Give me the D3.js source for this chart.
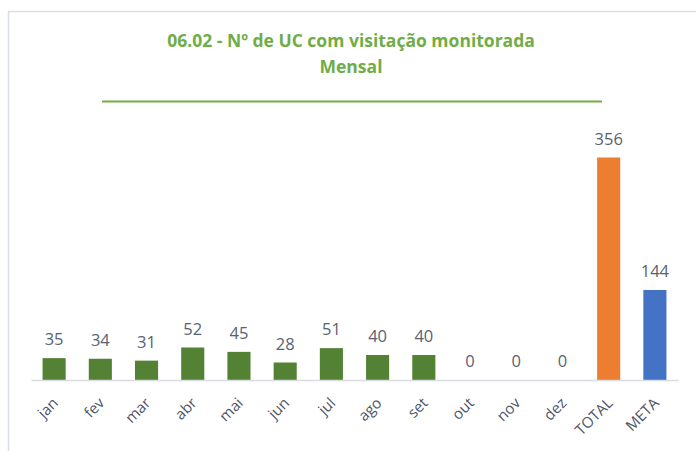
<!DOCTYPE html>
<html>
<head>
<meta charset="utf-8">
<script src="https://cdn.jsdelivr.net/npm/d3@7"></script>
<style>
  body { margin: 0; background: #fff; }
  svg { font-family: "Open Sans", "Liberation Sans", sans-serif; }
</style>
</head>
<body>
<div id="chart"></div>
<script>
const categories = ['jan', 'fev', 'mar', 'abr', 'mai', 'jun', 'jul', 'ago', 'set', 'out', 'nov', 'dez', 'TOTAL', 'META']
const values = [35, 34, 31, 52, 45, 28, 51, 40, 40, 0, 0, 0, 356, 144]
const barColors = ['#548235', '#548235', '#548235', '#548235', '#548235', '#548235', '#548235',
    '#548235', '#548235', '#548235', '#548235', '#548235', '#ED7D31', '#4472C4']

function draw(el) {
    const width = 696, height = 451
    const baseY = 380

    const svg = d3.select(el)
        .append('svg')
        .attr('width', width)
        .attr('height', height)

    // chart border
    svg.append('rect')
        .attr('x', 8.5)
        .attr('y', 11.5)
        .attr('width', 700)
        .attr('height', 460)
        .attr('fill', 'none')
        .attr('stroke', '#d9dde6')
        .attr('stroke-width', 1.5)

    const title = svg.append('text')
        .attr('text-anchor', 'middle')
        .attr('fill', '#70AD47')
        .attr('font-weight', 'bold')
        .attr('font-size', 17.5)
    title.append('tspan').attr('x', 351).attr('y', 47).text('06.02 - Nº de UC com visitação monitorada')
    title.append('tspan').attr('x', 351).attr('y', 73).text('Mensal')

    svg.append('line')
        .attr('x1', 102).attr('x2', 602)
        .attr('y1', 101.5).attr('y2', 101.5)
        .attr('stroke', '#70AD47')
        .attr('stroke-width', 2)

    const x = d3.scaleBand()
        .domain(categories)
        .range([31, 678])
        .paddingInner(0.5)
        .paddingOuter(0.25)

    const y = d3.scaleLinear()
        .domain([0, 400])
        .range([baseY, 130])

    const data = categories.map((c, i) => ({ c, v: values[i], color: barColors[i] }))

    svg.append('g')
        .selectAll('rect')
        .data(data)
        .join('rect')
        .attr('x', d => x(d.c))
        .attr('y', d => y(d.v))
        .attr('width', x.bandwidth())
        .attr('height', d => baseY - y(d.v))
        .attr('fill', d => d.color)

    svg.append('g')
        .selectAll('text')
        .data(data)
        .join('text')
        .attr('x', d => x(d.c) + x.bandwidth() / 2)
        .attr('y', d => y(d.v) - 13)
        .attr('text-anchor', 'middle')
        .attr('font-size', 16.5)
        .attr('fill', '#5a6272')
        .text(d => d.v)

    const xAxis = svg.append('g')
        .attr('transform', `translate(0, ${baseY})`)
        .call(d3.axisBottom(x).tickSize(0).tickPadding(0))
        .attr('font-family', '"Open Sans", sans-serif')
        .attr('font-size', 15)
    xAxis.select('.domain').attr('stroke', '#d9dce3').attr('stroke-width', 1.5)
    xAxis.selectAll('text')
        .attr('fill', '#4d5566')
        .attr('text-anchor', 'end')
        .attr('y', 0)
        .attr('dy', 0)
        .attr('transform', 'translate(5, 24) rotate(-45)')
}

draw('#chart')
</script>
</body>
</html>
